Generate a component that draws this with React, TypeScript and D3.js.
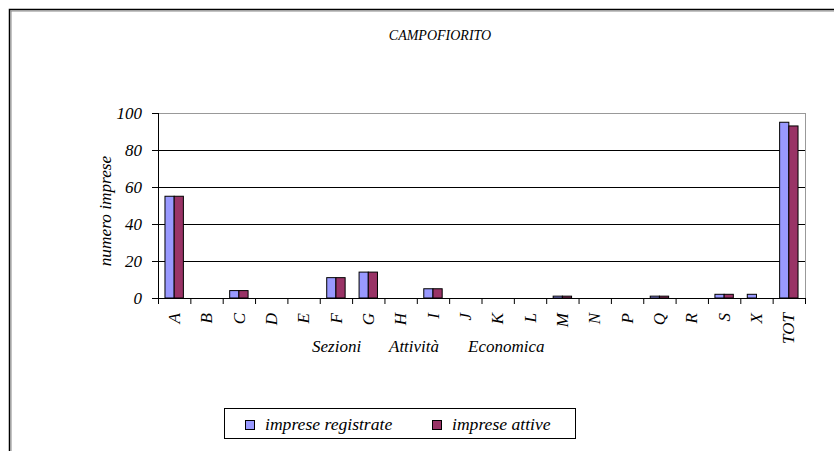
import React from "react";
import * as d3 from "d3";

const categories = ["A","B","C","D","E","F","G","H","I","J","K","L","M","N","P","Q","R","S","X","TOT"];
const registrate = [55,0,4,0,0,11,14,0,5,0,0,0,1,0,0,1,0,2,2,95];
const attive = [55,0,4,0,0,11,14,0,5,0,0,0,1,0,0,1,0,2,0,93];
const yTicks = [0,20,40,60,80,100];
const seriesNames = ["imprese registrate","imprese attive"];
const seriesColors = ["#9999FF","#993366"];
const titleText = "CAMPOFIORITO";
const xTitleWords = ["Sezioni","Attività","Economica"];
const yTitle = "numero imprese";

const W = 834, H = 451;
const FONT = "Liberation Serif, serif";
const txt = { fontFamily: FONT, fontStyle: "italic" } as React.CSSProperties;

export default function App() {
  const left = 158, right = 805, top = 113, bottom = 298;
  const x = d3.scaleBand<string>().domain(categories).range([left, right]).paddingInner(0).paddingOuter(0);
  const y = d3.scaleLinear().domain([0, 100]).range([bottom, top]);
  const bw = 9.2;
  const series = [registrate, attive];
  const xTitleX = [312, 389, 468];

  return (
    <svg width={W} height={H} style={{ position: "absolute", left: 0, top: 0, background: "#fff", fontFamily: FONT, fontStyle: "italic" }}>
      <rect x={0} y={0} width={W} height={H} fill="#fff" />
      {/* outer frame */}
      <rect x={9.5} y={9.5} width={W + 20} height={H + 20} fill="none" stroke="#000" strokeWidth={1.5} />
      <line x1={10.5} y1={11} x2={W} y2={11} stroke="#888" strokeWidth={1} />
      <line x1={11} y1={11} x2={11} y2={H} stroke="#888" strokeWidth={1} />
      {/* title */}
      <text x={440} y={40} fontSize={14} textAnchor="middle" style={txt}>{titleText}</text>
      {/* plot border */}
      <line x1={left} y1={top + 0.5} x2={right} y2={top + 0.5} stroke="#999" strokeWidth={1} />
      <line x1={right + 0.5} y1={top} x2={right + 0.5} y2={bottom} stroke="#999" strokeWidth={1} />
      {/* gridlines */}
      {yTicks.filter(t => t > 0 && t < 100).map(t => (
        <line key={t} x1={left} x2={right} y1={Math.round(y(t)) + 0.5} y2={Math.round(y(t)) + 0.5} stroke="#000" strokeWidth={1} />
      ))}
      {/* bars */}
      {categories.map((c, i) => {
        const cx = (x(c) as number) + x.bandwidth() / 2;
        return series.map((s, si) => {
          const v = s[i];
          if (!v) return null;
          const bx = cx - bw + si * bw;
          return (
            <rect key={c + si} x={bx} y={y(v)} width={bw} height={bottom - y(v)} fill={seriesColors[si]} stroke="#000" strokeWidth={1} />
          );
        });
      })}
      {/* y axis */}
      <line x1={left + 0.5} x2={left + 0.5} y1={top} y2={bottom} stroke="#000" strokeWidth={1} />
      {yTicks.map(t => (
        <g key={t}>
          <line x1={left - 6} x2={left} y1={Math.round(y(t)) + 0.5} y2={Math.round(y(t)) + 0.5} stroke="#000" strokeWidth={1} />
          <text x={142} y={y(t)} dy="0.35em" fontSize={17} textAnchor="end" style={txt}>{t}</text>
        </g>
      ))}
      {/* x axis */}
      <line x1={left} x2={right} y1={bottom + 0.5} y2={bottom + 0.5} stroke="#000" strokeWidth={1} />
      {categories.map(c => (
        <line key={"t" + c} x1={(x(c) as number) + 0.5} x2={(x(c) as number) + 0.5} y1={bottom} y2={bottom + 6} stroke="#000" strokeWidth={1} />
      ))}
      <line x1={right + 0.5} x2={right + 0.5} y1={bottom} y2={bottom + 6} stroke="#000" strokeWidth={1} />
      {categories.map(c => {
        const cx = (x(c) as number) + x.bandwidth() / 2;
        return (
          <text key={"l" + c} transform={`translate(${cx},313) rotate(-90)`} fontSize={17} textAnchor="end" dy="0.33em" style={txt}>{c}</text>
        );
      })}
      {/* x title */}
      <text y={352} fontSize={17} style={txt}>
        {xTitleWords.map((w, i) => (
          <tspan key={w} x={xTitleX[i]}>{w}</tspan>
        ))}
      </text>
      {/* y title */}
      <text transform={`translate(105,211) rotate(-90)`} fontSize={17.3} textAnchor="middle" dy="0.33em" style={txt}>{yTitle}</text>
      {/* legend */}
      <rect x={224.5} y={408.5} width={351} height={30} fill="#fff" stroke="#000" strokeWidth={1} />
      {seriesNames.map((n, i) => {
        const sx = i === 0 ? 245 : 432;
        return (
          <g key={n}>
            <rect x={sx + 0.5} y={420.5} width={9} height={9} fill={seriesColors[i]} stroke="#000" strokeWidth={1} />
            <text x={sx + 20} y={430} fontSize={17.6} style={txt}>{n}</text>
          </g>
        );
      })}
    </svg>
  );
}
